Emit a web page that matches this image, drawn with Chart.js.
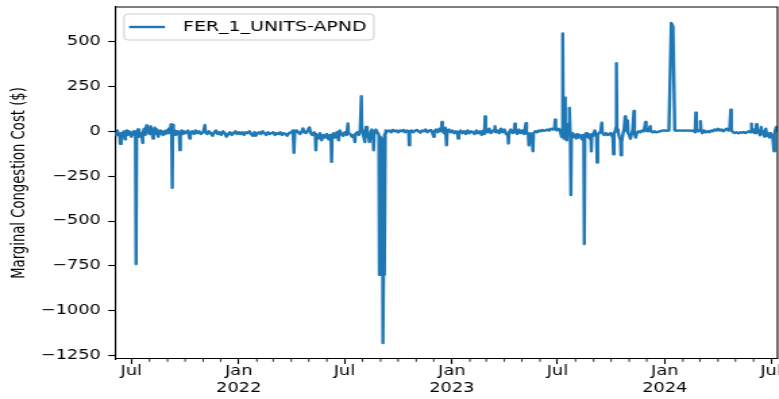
<!DOCTYPE html>
<html>
<head>
<meta charset="utf-8">
<script src="https://cdn.jsdelivr.net/npm/chart.js@4.4.0/dist/chart.umd.min.js"></script>
<style>
  html, body { margin: 0; padding: 0; background: #fff; overflow: hidden; }
  #wrap { width: 577px; height: 399px; transform: scaleX(1.35); transform-origin: 0 0; }
  canvas { display: block; }
</style>
</head>
<body>
<div id="wrap"><canvas id="chart" width="577" height="399"></canvas></div>
<script>
// Daily marginal congestion cost ($) at FER_1_UNITS-APND, as [date, value] pairs
const cost2021 = [
  ["2021-06-03",-5],["2021-06-05",-20],["2021-06-07",5],["2021-06-09",-15],["2021-06-11",-25],["2021-06-12",-70],
  ["2021-06-13",-60],["2021-06-14",-10],["2021-06-16",-30],["2021-06-18",0],["2021-06-20",-45],["2021-06-21",-15],
  ["2021-06-23",5],["2021-06-25",-20],["2021-06-27",0],["2021-06-29",-10],["2021-07-01",-30],["2021-07-03",-5],
  ["2021-07-05",0],["2021-07-07",-20],["2021-07-08",-20],["2021-07-09",-740],["2021-07-10",-15],["2021-07-12",10],
  ["2021-07-14",-30],["2021-07-17",-10],["2021-07-19",-25],["2021-07-20",-65],["2021-07-21",-10],["2021-07-23",15],
  ["2021-07-25",-20],["2021-07-27",33],["2021-07-28",-5],["2021-07-30",10],["2021-08-01",-15],["2021-08-03",28],
  ["2021-08-05",0],["2021-08-07",-40],["2021-08-08",-10],["2021-08-10",20],["2021-08-12",-15],["2021-08-14",10],
  ["2021-08-16",-30],["2021-08-18",-5],["2021-08-20",5],["2021-08-22",-10],["2021-08-24",-20],["2021-08-26",0],
  ["2021-08-28",-15],["2021-08-30",5],["2021-09-01",-10],["2021-09-03",15],["2021-09-05",-5],["2021-09-07",40],
  ["2021-09-08",-10],["2021-09-09",-315],["2021-09-10",35],["2021-09-11",-10],["2021-09-13",5],["2021-09-15",-20],
  ["2021-09-17",0],["2021-09-19",-10],["2021-09-21",-15],["2021-09-22",-105],["2021-09-23",-20],["2021-09-25",5],
  ["2021-09-27",-15],["2021-09-29",0],["2021-10-01",-10],["2021-10-03",-10],["2021-10-06",5],["2021-10-09",-40],
  ["2021-10-10",-10],["2021-10-13",0],["2021-10-16",-15],["2021-10-19",5],["2021-10-22",-10],["2021-10-25",0],
  ["2021-10-28",-15],["2021-11-01",-5],["2021-11-04",35],["2021-11-05",-5],["2021-11-08",-15],["2021-11-11",0],
  ["2021-11-14",-10],["2021-11-17",-25],["2021-11-20",-5],["2021-11-23",5],["2021-11-26",-15],["2021-11-29",-5],
  ["2021-12-02",-20],["2021-12-05",0],["2021-12-08",-10],["2021-12-11",-30],["2021-12-14",-15],["2021-12-17",-5],
  ["2021-12-20",-20],["2021-12-23",-10],["2021-12-26",0],["2021-12-29",-15]
];
const cost2022 = [
  ["2022-01-01",-5],["2022-01-04",-15],["2022-01-07",-5],["2022-01-10",-20],["2022-01-13",-5],["2022-01-16",-10],
  ["2022-01-19",0],["2022-01-22",-15],["2022-01-25",-25],["2022-01-28",-5],["2022-01-30",-25],["2022-02-02",-10],
  ["2022-02-05",-5],["2022-02-08",-15],["2022-02-11",0],["2022-02-14",-10],["2022-02-17",-20],["2022-02-20",-5],
  ["2022-02-23",-15],["2022-02-26",-10],["2022-03-01",-5],["2022-03-04",-20],["2022-03-07",-10],["2022-03-10",-15],
  ["2022-03-13",-5],["2022-03-16",-20],["2022-03-19",-10],["2022-03-22",-15],["2022-03-25",-25],["2022-03-28",-10],
  ["2022-04-01",-5],["2022-04-04",5],["2022-04-05",-10],["2022-04-06",-120],["2022-04-07",-10],["2022-04-10",5],
  ["2022-04-13",-5],["2022-04-16",-15],["2022-04-19",0],["2022-04-21",16],["2022-04-23",-5],["2022-04-26",-10],
  ["2022-04-29",5],["2022-05-02",22],["2022-05-04",-10],["2022-05-07",-20],["2022-05-10",-5],["2022-05-12",-15],
  ["2022-05-13",-105],["2022-05-14",-20],["2022-05-17",-40],["2022-05-20",-10],["2022-05-23",-50],["2022-05-26",-20],
  ["2022-05-29",-35],["2022-06-01",-15],["2022-06-04",-45],["2022-06-07",-20],["2022-06-08",-30],["2022-06-09",-170],
  ["2022-06-10",-25],["2022-06-12",-10],["2022-06-15",-35],["2022-06-18",-5],["2022-06-21",-50],["2022-06-23",5],
  ["2022-06-26",-15],["2022-06-29",-25],["2022-07-02",-5],["2022-07-05",-20],["2022-07-07",44],["2022-07-08",-10],
  ["2022-07-11",-15],["2022-07-14",-30],["2022-07-17",-20],["2022-07-19",-60],["2022-07-20",-15],["2022-07-23",-5],
  ["2022-07-26",-20],["2022-07-28",10],["2022-07-30",196],["2022-07-31",5],["2022-08-02",-15],["2022-08-05",-60],
  ["2022-08-07",24],["2022-08-09",-10],["2022-08-11",-25],["2022-08-13",-60],["2022-08-15",-5],["2022-08-17",10],
  ["2022-08-19",-20],["2022-08-20",-105],["2022-08-21",-15],["2022-08-24",10],["2022-08-27",-10],["2022-08-29",-20],
  ["2022-08-30",-800],["2022-08-31",-30],["2022-09-01",-790],["2022-09-02",-40],["2022-09-03",-800],["2022-09-04",-60],
  ["2022-09-05",-1180],["2022-09-06",-800],["2022-09-07",-20],["2022-09-08",-790],["2022-09-09",-10],["2022-09-10",5],
  ["2022-09-13",0],["2022-09-16",5],["2022-09-19",-5],["2022-09-22",8],["2022-09-25",0],["2022-09-28",5],
  ["2022-10-01",-5],["2022-10-04",5],["2022-10-07",0],["2022-10-10",8],["2022-10-13",-5],["2022-10-16",5],
  ["2022-10-19",0],["2022-10-20",-78],["2022-10-21",0],["2022-10-24",5],["2022-10-27",-5],["2022-10-30",3],
  ["2022-11-02",8],["2022-11-05",0],["2022-11-08",-8],["2022-11-11",5],["2022-11-14",0],["2022-11-17",10],
  ["2022-11-20",-5],["2022-11-23",3],["2022-11-26",8],["2022-11-29",-10],["2022-12-01",-30],["2022-12-02",0],
  ["2022-12-05",10],["2022-12-08",-5],["2022-12-11",15],["2022-12-14",0],["2022-12-15",52],["2022-12-16",5],
  ["2022-12-19",-10],["2022-12-21",20],["2022-12-23",-78],["2022-12-24",-5],["2022-12-27",10],["2022-12-30",-5]
];
const cost2023 = [
  ["2023-01-02",5],["2023-01-05",-10],["2023-01-08",0],["2023-01-11",-15],["2023-01-12",-40],["2023-01-13",-5],
  ["2023-01-16",5],["2023-01-19",-10],["2023-01-22",0],["2023-01-25",-15],["2023-01-28",5],["2023-01-31",-10],
  ["2023-02-03",0],["2023-02-06",-5],["2023-02-09",-15],["2023-02-12",5],["2023-02-15",-10],["2023-02-18",0],
  ["2023-02-21",-20],["2023-02-24",5],["2023-02-26",-15],["2023-02-27",83],["2023-02-28",10],["2023-03-03",-5],
  ["2023-03-06",15],["2023-03-09",-10],["2023-03-12",0],["2023-03-15",10],["2023-03-16",28],["2023-03-17",-5],
  ["2023-03-20",5],["2023-03-23",-10],["2023-03-26",15],["2023-03-29",-5],["2023-04-01",10],["2023-04-04",-15],
  ["2023-04-07",-20],["2023-04-08",-68],["2023-04-09",-5],["2023-04-12",10],["2023-04-15",-10],["2023-04-18",5],
  ["2023-04-19",43],["2023-04-20",0],["2023-04-23",-15],["2023-04-26",10],["2023-04-29",-10],["2023-05-02",5],
  ["2023-05-05",-15],["2023-05-08",46],["2023-05-09",-5],["2023-05-12",-20],["2023-05-13",-78],["2023-05-15",-10],
  ["2023-05-18",-30],["2023-05-20",-111],["2023-05-21",-10],["2023-05-24",0],["2023-05-27",-5],["2023-05-30",5],
  ["2023-06-02",0],["2023-06-05",8],["2023-06-08",3],["2023-06-11",5],["2023-06-14",10],["2023-06-17",5],
  ["2023-06-20",15],["2023-06-23",10],["2023-06-26",20],["2023-06-27",65],["2023-06-28",10],["2023-06-30",5],
  ["2023-07-03",15],["2023-07-06",0],["2023-07-08",-30],["2023-07-09",10],["2023-07-10",546],["2023-07-11",20],
  ["2023-07-12",-40],["2023-07-13",30],["2023-07-14",187],["2023-07-15",-30],["2023-07-17",-50],["2023-07-18",40],
  ["2023-07-20",-20],["2023-07-21",60],["2023-07-22",131],["2023-07-23",-20],["2023-07-24",-355],["2023-07-25",-40],
  ["2023-07-27",-10],["2023-07-29",-30],["2023-07-31",-20],["2023-08-02",-40],["2023-08-04",-15],["2023-08-06",-35],
  ["2023-08-08",-20],["2023-08-10",-25],["2023-08-12",-45],["2023-08-14",-20],["2023-08-15",-30],["2023-08-16",-628],
  ["2023-08-17",-25],["2023-08-19",-10],["2023-08-21",-30],["2023-08-23",-15],["2023-08-25",-40],["2023-08-27",-20],
  ["2023-08-28",-111],["2023-08-29",-15],["2023-08-31",-25],["2023-09-03",5],["2023-09-05",-20],["2023-09-06",-30],
  ["2023-09-07",-174],["2023-09-08",-20],["2023-09-10",-10],["2023-09-13",0],["2023-09-15",48],["2023-09-16",-10],
  ["2023-09-19",-20],["2023-09-22",-10],["2023-09-25",-20],["2023-09-28",-15],["2023-09-30",-10],["2023-10-02",-25],
  ["2023-10-04",-30],["2023-10-05",-128],["2023-10-06",-10],["2023-10-08",0],["2023-10-09",20],["2023-10-10",380],
  ["2023-10-11",10],["2023-10-13",-5],["2023-10-15",-30],["2023-10-17",-50],["2023-10-18",-133],["2023-10-19",-60],
  ["2023-10-21",-20],["2023-10-23",10],["2023-10-25",83],["2023-10-26",20],["2023-10-28",0],["2023-10-29",61],
  ["2023-10-30",-10],["2023-11-01",-20],["2023-11-03",-41],["2023-11-05",-15],["2023-11-07",10],["2023-11-09",113],
  ["2023-11-10",-10],["2023-11-12",-35],["2023-11-14",-10],["2023-11-17",0],["2023-11-20",-5],["2023-11-23",5],
  ["2023-11-26",0],["2023-11-29",52],["2023-11-30",5],["2023-12-03",0],["2023-12-05",10],["2023-12-07",29],
  ["2023-12-08",0],["2023-12-11",-5],["2023-12-14",0],["2023-12-17",-5],["2023-12-20",-3],["2023-12-23",0],
  ["2023-12-26",3],["2023-12-29",5]
];
const cost2024 = [
  ["2024-01-02",5],["2024-01-05",3],["2024-01-08",5],["2024-01-09",5],["2024-01-12",604],["2024-01-15",585],
  ["2024-01-18",5],["2024-01-21",3],["2024-01-24",5],["2024-01-27",4],["2024-01-30",5],["2024-02-02",3],
  ["2024-02-05",5],["2024-02-08",4],["2024-02-11",5],["2024-02-14",3],["2024-02-17",5],["2024-02-20",0],
  ["2024-02-22",-5],["2024-02-23",104],["2024-02-24",5],["2024-02-27",0],["2024-03-01",10],["2024-03-02",57],
  ["2024-03-03",10],["2024-03-05",-10],["2024-03-08",5],["2024-03-11",-5],["2024-03-14",0],["2024-03-17",-5],
  ["2024-03-20",5],["2024-03-23",0],["2024-03-26",10],["2024-03-29",5],["2024-04-01",15],["2024-04-04",5],
  ["2024-04-07",10],["2024-04-10",0],["2024-04-13",8],["2024-04-16",15],["2024-04-19",5],["2024-04-21",10],
  ["2024-04-23",120],["2024-04-24",5],["2024-04-27",-5],["2024-04-30",-10],["2024-05-03",-5],["2024-05-06",-12],
  ["2024-05-09",-5],["2024-05-12",-8],["2024-05-15",-3],["2024-05-18",-10],["2024-05-21",-5],["2024-05-24",0],
  ["2024-05-27",-5],["2024-05-28",43],["2024-05-29",-5],["2024-06-01",10],["2024-06-03",-10],["2024-06-05",5],
  ["2024-06-06",40],["2024-06-07",-5],["2024-06-09",5],["2024-06-11",-10],["2024-06-12",-22],["2024-06-14",25],
  ["2024-06-16",-15],["2024-06-18",0],["2024-06-20",-30],["2024-06-22",15],["2024-06-24",-25],["2024-06-26",-10],
  ["2024-06-28",-35],["2024-06-30",-10],["2024-07-02",-20],["2024-07-04",-40],["2024-07-06",-111],["2024-07-07",-20],
  ["2024-07-08",5],["2024-07-10",24],["2024-07-12",5]
];

const seriesName = 'FER_1_UNITS-APND';
const yTitle = 'Marginal Congestion Cost ($)';
const yTicks = [-1250, -1000, -750, -500, -250, 0, 250, 500];
const xTickDates = ['2021-07-01', '2022-01-01', '2022-07-01', '2023-01-01', '2023-07-01', '2024-01-01', '2024-07-01'];
const xTickLabels = [['Jul'], ['Jan', '2022'], ['Jul'], ['Jan', '2023'], ['Jul'], ['Jan', '2024'], ['Jul']];

const FONT = '"DejaVu Sans", sans-serif';
const BLUE = '#1f77b4';

// days since 2021-01-01
function dayNum(s) {
  const [y, m, d] = s.split('-').map(Number);
  return (Date.UTC(y, m - 1, d) - Date.UTC(2021, 0, 1)) / 86400000;
}

const rows = [...cost2021, ...cost2022, ...cost2023, ...cost2024];
const points = rows.map(([d, v]) => ({ x: dayNum(d), y: v }));
const xMin = points[0].x;
const xMax = points[points.length - 1].x;
const vals = points.map(p => p.y);
const vLo = Math.min(...vals), vHi = Math.max(...vals);
const margin = 0.05 * (vHi - vLo);

function fmt(v) { return v < 0 ? '\u2212' + Math.abs(v) : String(v); }

// top/right spines, monthly minor ticks and the legend box
const decorations = {
  id: 'decorations',
  afterDraw(chart) {
    const { ctx, chartArea: a, scales: { x } } = chart;
    ctx.save();
    ctx.strokeStyle = '#000';
    ctx.lineWidth = 1.1;
    ctx.beginPath();
    ctx.moveTo(a.left, a.top);
    ctx.lineTo(a.right, a.top);
    ctx.lineTo(a.right, a.bottom);
    ctx.stroke();

    ctx.lineWidth = 0.85;
    ctx.beginPath();
    for (let y = 2021; y <= 2024; y++) {
      for (let m = 1; m <= 12; m++) {
        if (m === 1 || m === 7) continue;
        const v = dayNum(y + '-' + String(m).padStart(2, '0') + '-01');
        if (v < xMin || v > xMax) continue;
        const px = x.getPixelForValue(v);
        ctx.moveTo(px, a.bottom);
        ctx.lineTo(px, a.bottom + 2.8);
      }
    }
    ctx.stroke();

    // legend
    ctx.font = '14px ' + FONT;
    const textX = 135.6;
    const tw = ctx.measureText(seriesName).width;
    const bx = 91.9, by = 14, bw = textX + tw + 5.5 - bx, bh = 26, r = 3;
    ctx.beginPath();
    ctx.moveTo(bx + r, by);
    ctx.lineTo(bx + bw - r, by);
    ctx.quadraticCurveTo(bx + bw, by, bx + bw, by + r);
    ctx.lineTo(bx + bw, by + bh - r);
    ctx.quadraticCurveTo(bx + bw, by + bh, bx + bw - r, by + bh);
    ctx.lineTo(bx + r, by + bh);
    ctx.quadraticCurveTo(bx, by + bh, bx, by + bh - r);
    ctx.lineTo(bx, by + r);
    ctx.quadraticCurveTo(bx, by, bx + r, by);
    ctx.closePath();
    ctx.fillStyle = 'rgba(255,255,255,0.8)';
    ctx.fill();
    ctx.strokeStyle = '#cccccc';
    ctx.lineWidth = 1;
    ctx.stroke();

    ctx.strokeStyle = BLUE;
    ctx.lineWidth = 2.4;
    ctx.beginPath();
    ctx.moveTo(95.6, 27);
    ctx.lineTo(122.2, 27);
    ctx.stroke();

    ctx.fillStyle = '#000';
    ctx.textBaseline = 'middle';
    ctx.textAlign = 'left';
    ctx.fillText(seriesName, textX, 27.5);
    ctx.restore();
  }
};

new Chart(document.getElementById('chart'), {
  type: 'line',
  data: {
    datasets: [{
      label: seriesName,
      data: points,
      borderColor: BLUE,
      backgroundColor: BLUE,
      borderWidth: 2.4,
      pointRadius: 0,
      tension: 0,
      borderJoinStyle: 'round',
      fill: false
    }]
  },
  options: {
    responsive: false,
    animation: false,
    devicePixelRatio: 1,
    events: [],
    layout: { padding: { top: 7, right: 1.1, bottom: 0, left: 0 } },
    plugins: {
      legend: { display: false },
      tooltip: { enabled: false }
    },
    scales: {
      x: {
        type: 'linear',
        min: xMin,
        max: xMax,
        afterBuildTicks(s) { s.ticks = xTickDates.map(d => ({ value: dayNum(d) })); },
        afterFit(s) { s.height = 40; s.paddingLeft = 0; s.paddingRight = 0; },
        ticks: {
          autoSkip: false,
          maxRotation: 0,
          minRotation: 0,
          padding: 0,
          color: '#000',
          font: { family: FONT, size: 13.2, lineHeight: 1.22 },
          callback: (v, i) => xTickLabels[i]
        },
        grid: { drawOnChartArea: false, drawTicks: true, tickLength: 5, tickWidth: 1.1, tickColor: '#000' },
        border: { display: true, color: '#000', width: 1.1 }
      },
      y: {
        type: 'linear',
        min: vLo - margin,
        max: vHi + margin,
        afterBuildTicks(s) { s.ticks = yTicks.map(v => ({ value: v })); },
        afterFit(s) { s.width = 85.2; s.paddingTop = 0; s.paddingBottom = 0; },
        ticks: {
          padding: 5.5,
          color: '#000',
          font: { family: FONT, size: 13.2 },
          callback: v => fmt(v)
        },
        grid: { drawOnChartArea: false, drawTicks: true, tickLength: 5, tickWidth: 1.1, tickColor: '#000' },
        border: { display: true, color: '#000', width: 1.1 },
        title: {
          display: true,
          text: yTitle,
          color: '#000',
          font: { family: FONT, size: 13.2, lineHeight: 1.2 },
          padding: { top: 6.9, bottom: 0 }
        }
      }
    }
  },
  plugins: [decorations]
});
</script>
</body>
</html>
